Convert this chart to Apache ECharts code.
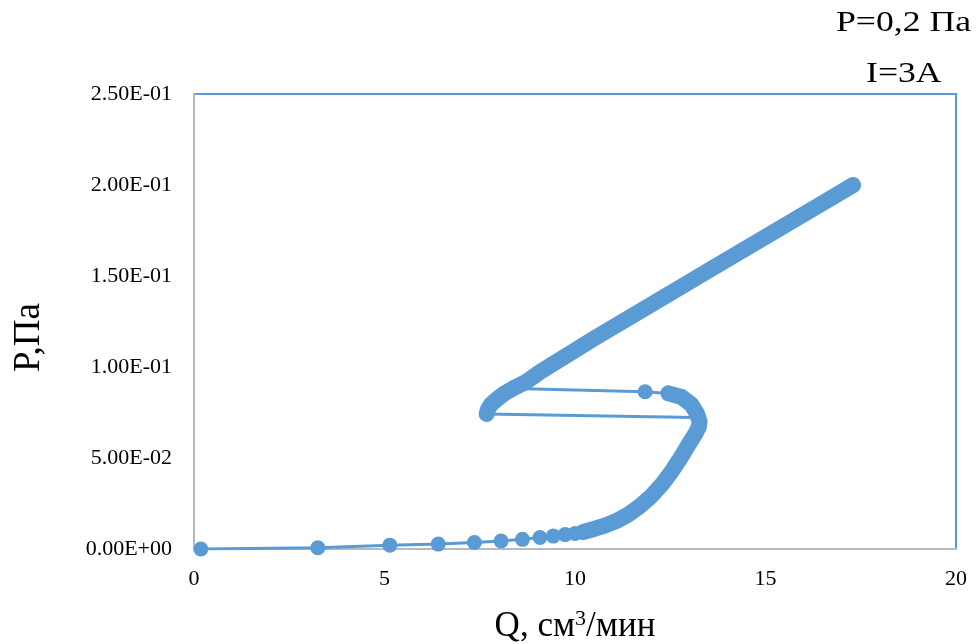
<!DOCTYPE html>
<html>
<head>
<meta charset="utf-8">
<script src="https://cdn.jsdelivr.net/npm/echarts@6/dist/echarts.min.js"></script>
<style>
  html, body { margin: 0; padding: 0; background: #fff; }
  #chart { width: 980px; height: 644px; }
</style>
</head>
<body>
<div id="chart"></div>
<script>
// lower branch, separate measured points (with markers)
const lowQ = [0.18, 3.25, 5.14, 6.41, 7.36, 8.06, 8.62, 9.08, 9.43, 9.74, 10.0, 10.21]
const lowP = [0, 0.0007, 0.0021, 0.0027, 0.0036, 0.0044, 0.0053, 0.0063, 0.0071, 0.0079, 0.0085, 0.0093]

// lower branch, dense part (markers merge into a band)
const bendQ = [10.21, 10.5, 10.8, 11.1, 11.4, 11.7, 12.0, 12.3, 12.55, 12.8, 13.0, 13.15, 13.25, 13.27, 13.2, 13.05, 12.8, 12.45]
const bendP = [0.0093, 0.0110, 0.0130, 0.0155, 0.0190, 0.0235, 0.0290, 0.0360, 0.0430, 0.0510, 0.0580, 0.0630, 0.0670, 0.0700, 0.0745, 0.0795, 0.0835, 0.0855]

// jump back to upper branch (upper thin line)
const jumpUpQ = [12.45, 11.84, 8.68]
const jumpUpP = [0.0855, 0.0864, 0.0880]

// lower thin line
const jumpLowQ = [7.68, 13.15]
const jumpLowP = [0.0742, 0.0722]

// upper branch (dense band)
const upQ = [7.68, 7.72, 7.8, 7.95, 8.15, 8.4, 8.73, 9.1, 9.6, 10.5, 12.0, 13.5, 15.0, 16.5, 17.3]
const upP = [0.0742, 0.0770, 0.0795, 0.0823, 0.0855, 0.0885, 0.0920, 0.0975, 0.1040, 0.1157, 0.1343, 0.1529, 0.1715, 0.1901, 0.2000]

const yTicks = ['0.00E+00', '5.00E-02', '1.00E-01', '1.50E-01', '2.00E-01', '2.50E-01']

const blue = '#5B9BD5'
const font = 'Liberation Serif'

function pairs(xs, ys) {
  return xs.map((x, i) => [x, ys[i]])
}

// same, but the last point has no marker (it ends inside the band)
function pairsOpenEnd(xs, ys) {
  return xs.map((x, i) => i === xs.length - 1
    ? { value: [x, ys[i]], symbol: 'none' }
    : [x, ys[i]])
}

const chart = echarts.init(document.getElementById('chart'))

const thin = {
  type: 'line',
  symbol: 'circle',
  symbolSize: 15,
  itemStyle: { color: blue },
  lineStyle: { color: blue, width: 3 },
  animation: false,
  silent: true
}
const band = {
  type: 'line',
  showSymbol: false,
  symbol: 'none',
  lineStyle: { color: blue, width: 16, cap: 'round', join: 'round' },
  animation: false,
  silent: true
}

const option = {
  animation: false,
  grid: {
    left: 194, right: 24, top: 94, bottom: 95,
    outerBoundsMode: 'none',
    containLabel: false,
    show: true,
    borderColor: blue,
    borderWidth: 2,
    backgroundColor: '#fff'
  },
  graphic: [
    {
      type: 'text', x: 836, y: 8, scaleX: 1.19,
      style: { text: 'P=0,2 Па', font: '30px "Liberation Serif"', fill: '#000' }
    },
    {
      type: 'text', x: 866, y: 59, scaleX: 1.19,
      style: { text: 'I=3A', font: '30px "Liberation Serif"', fill: '#000' }
    }
  ],
  xAxis: {
    type: 'value',
    min: 0, max: 20, interval: 5,
    name: 'Q, см{sup|3}/мин',
    nameLocation: 'middle',
    nameGap: 59,
    nameTextStyle: {
      fontFamily: font, fontSize: 35, color: '#000',
      rich: { sup: { fontFamily: font, fontSize: 22, color: '#000', verticalAlign: 'top', padding: [0, 0, 16, 0] } }
    },
    axisLine: { show: true, lineStyle: { color: '#B4BBC3', width: 2 } },
    axisTick: { show: false },
    splitLine: { show: false },
    axisLabel: { fontFamily: font, fontSize: 22, color: '#000', margin: 19 }
  },
  yAxis: {
    type: 'value',
    min: 0, max: 0.25, interval: 0.05,
    name: 'P,Па',
    nameLocation: 'middle',
    nameGap: 146,
    nameTextStyle: { fontFamily: font, fontSize: 37, color: '#000', padding: [0, 32, 0, 0] },
    axisLine: { show: true, lineStyle: { color: '#B8B8B8', width: 2 } },
    axisTick: { show: false },
    splitLine: { show: false },
    axisLabel: {
      fontFamily: font, fontSize: 22, color: '#000', margin: 22,
      formatter: (v) => yTicks[Math.round(v / 0.05)]
    }
  },
  series: [
    Object.assign({}, thin, { data: pairsOpenEnd(jumpUpQ, jumpUpP) }),
    Object.assign({}, thin, { data: pairsOpenEnd(jumpLowQ, jumpLowP) }),
    Object.assign({}, thin, { data: pairs(lowQ, lowP) }),
    Object.assign({}, band, { data: pairs(bendQ, bendP) }),
    Object.assign({}, band, { data: pairs(upQ, upP) })
  ]
}

chart.setOption(option)
</script>
</body>
</html>
